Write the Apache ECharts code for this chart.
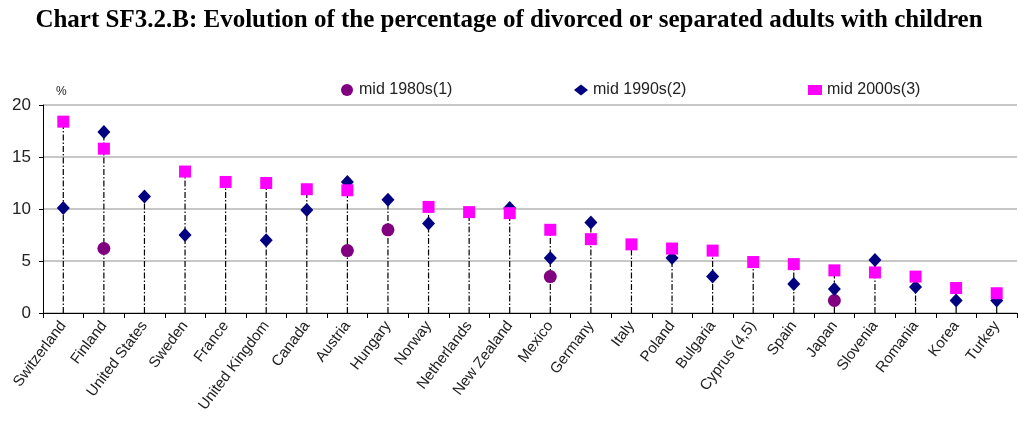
<!DOCTYPE html>
<html>
<head>
<meta charset="utf-8">
<script src="https://cdn.jsdelivr.net/npm/echarts@6/dist/echarts.min.js"></script>
<style>
  html, body { margin: 0; padding: 0; background: #fff; }
  #chart { width: 1018px; height: 422px; }
</style>
</head>
<body>
<div id="chart"></div>
<script>
var countries = ['Switzerland', 'Finland', 'United States', 'Sweden', 'France', 'United Kingdom', 'Canada', 'Austria',
  'Hungary', 'Norway', 'Netherlands', 'New Zealand', 'Mexico', 'Germany', 'Italy', 'Poland', 'Bulgaria',
  'Cyprus (4,5)', 'Spain', 'Japan', 'Slovenia', 'Romania', 'Korea', 'Turkey'];
var mid1980s = [null, 6.2, null, null, null, null, null, 6.0, 8.0, null, null, null, 3.5, null, null, null, null,
  null, null, 1.2, null, null, null, null];
var mid1990s = [10.1, 17.4, 11.2, 7.5, null, 7.0, 9.9, 12.6, 10.9, 8.6, null, 10.1, 5.3, 8.7, null, 5.3, 3.5,
  null, 2.8, 2.3, 5.1, 2.5, 1.2, 1.2];
var mid2000s = [18.4, 15.8, null, 13.6, 12.6, 12.5, 11.9, 11.8, null, 10.2, 9.7, 9.6, 8.0, 7.1, 6.6, 6.2, 6.0,
  4.9, 4.7, 4.1, 3.9, 3.5, 2.4, 1.9];
var yTicks = [0, 5, 10, 15, 20];

// stem top = highest marker in each column
var stems = countries.map(function (c, i) {
  var vals = [mid1980s[i], mid1990s[i], mid2000s[i]].filter(function (v) { return v != null; });
  return [i, Math.max.apply(null, vals)];
});

var chart = echarts.init(document.getElementById('chart'));
var lbl = { fontFamily: 'Liberation Sans, Arial', fontSize: 16, color: '#222' };

chart.setOption({
  animation: false,
  title: {
    text: 'Chart SF3.2.B: Evolution of the percentage of divorced or separated adults with children',
    left: 'center',
    top: 3,
    textStyle: { fontFamily: 'Liberation Serif, Times New Roman', fontWeight: 'bold', fontSize: 25, color: '#000' }
  },
  legend: [
    { data: ['mid 1980s(1)'], left: 336, top: 77, itemWidth: 14, itemHeight: 12, itemGap: 4, textStyle: lbl },
    { data: ['mid 1990s(2)'], left: 569, top: 77, itemWidth: 14, itemHeight: 11, textStyle: lbl },
    { data: ['mid 2000s(3)'], left: 803, top: 77, itemWidth: 14, itemHeight: 10, textStyle: lbl }
  ],
  graphic: [
    { type: 'text', left: 56, top: 86, style: { text: '%', font: '12px Liberation Sans, Arial', fill: '#222' } }
  ],
  grid: { left: 43, right: 1, top: 105, bottom: 109, containLabel: false },
  xAxis: {
    type: 'category',
    data: countries,
    axisLine: { lineStyle: { color: '#000', width: 1 } },
    axisTick: { show: true, alignWithLabel: false, length: 5, lineStyle: { color: '#000' } },
    axisLabel: { interval: 0, rotate: 53, margin: 10, fontFamily: 'Liberation Sans, Arial', fontSize: 15, color: '#222' },
    splitLine: { show: false }
  },
  yAxis: {
    type: 'value',
    min: yTicks[0],
    max: yTicks[yTicks.length - 1],
    interval: 5,
    axisLine: { show: true, lineStyle: { color: '#000' } },
    axisTick: { show: true, length: 4, lineStyle: { color: '#000' } },
    axisLabel: { margin: 12, fontFamily: 'Liberation Sans, Arial', fontSize: 17, color: '#222' },
    splitLine: { lineStyle: { color: '#b4b4b4', width: 1.5 } }
  },
  series: [
    {
      type: 'custom',
      data: stems,
      silent: true,
      renderItem: function (params, api) {
        var p0 = api.coord([api.value(0), 0]);
        var p1 = api.coord([api.value(0), api.value(1)]);
        return {
          type: 'line',
          shape: { x1: p0[0], y1: p0[1], x2: p1[0], y2: p1[1] },
          style: { stroke: '#000', lineWidth: 1.2, lineDash: [6, 2, 1.5, 2] }
        };
      },
      z: 1
    },
    {
      name: 'mid 1980s(1)', type: 'scatter', data: mid1980s, symbol: 'circle', symbolSize: 13,
      itemStyle: { color: '#800080', opacity: 1 }, z: 3
    },
    {
      name: 'mid 1990s(2)', type: 'scatter', data: mid1990s, symbol: 'diamond', symbolSize: [13, 14],
      itemStyle: { color: '#000080', opacity: 1 }, z: 3
    },
    {
      name: 'mid 2000s(3)', type: 'scatter', data: mid2000s, symbol: 'rect', symbolSize: 12,
      itemStyle: { color: '#ff00ff', opacity: 1 }, z: 3
    }
  ]
});
</script>
</body>
</html>
